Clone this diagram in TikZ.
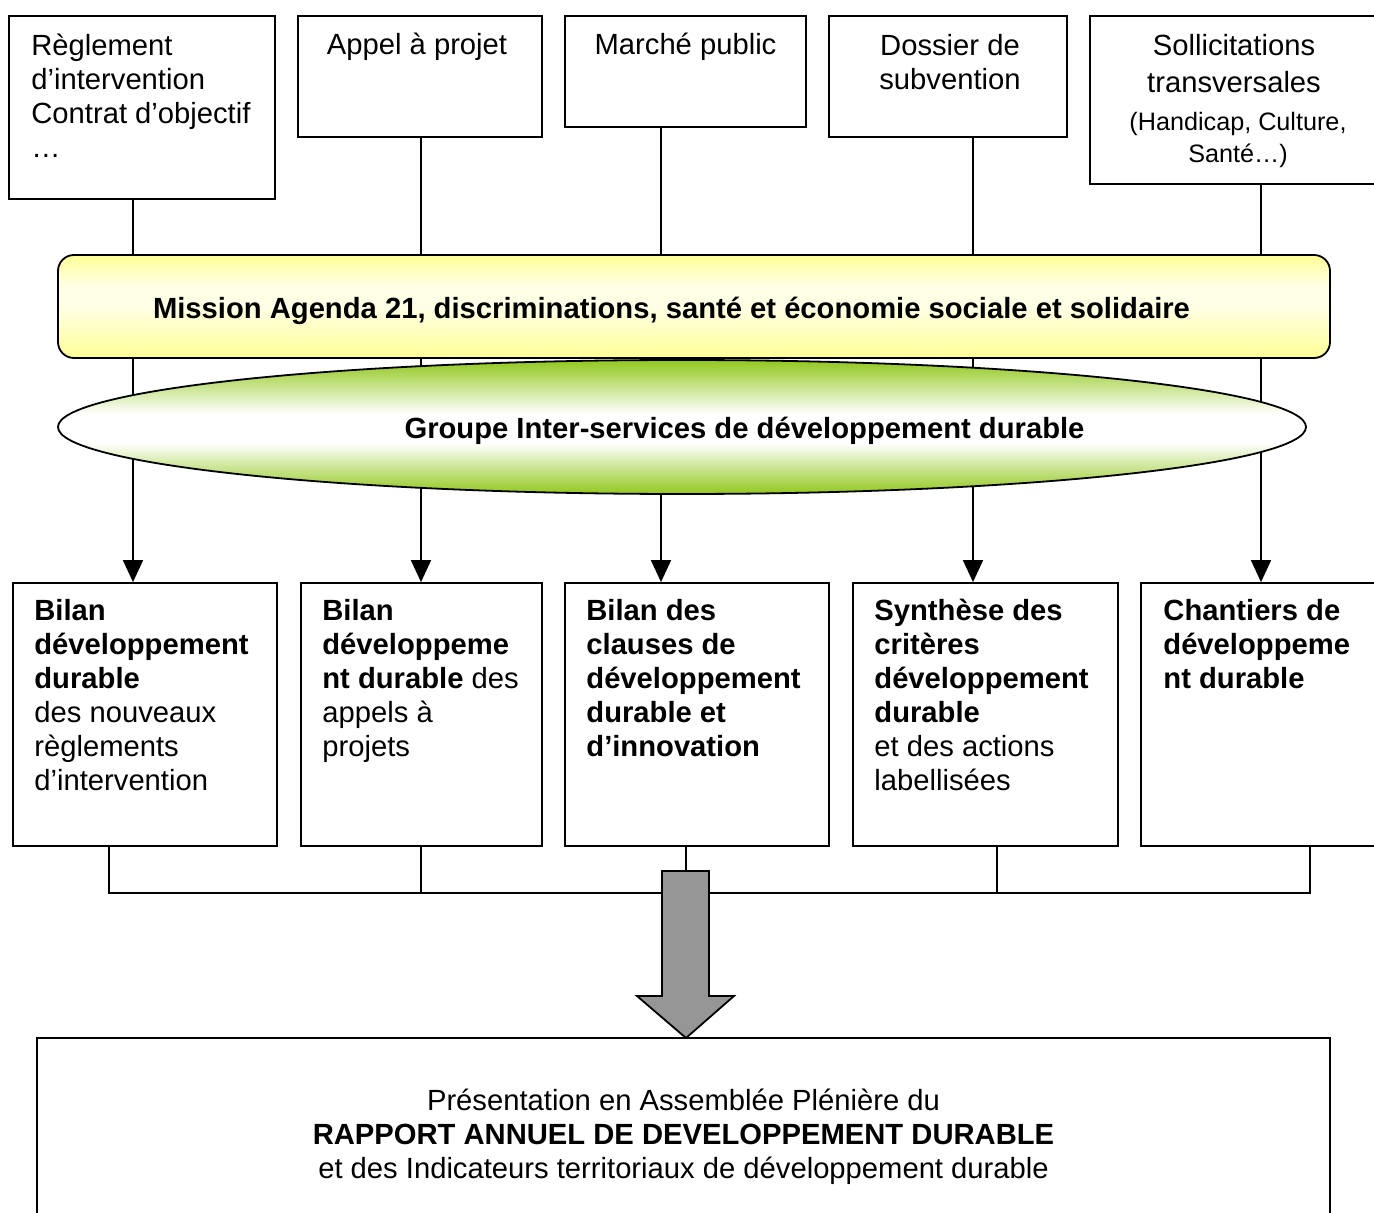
\documentclass[tikz,border=0pt]{standalone}
\usepackage{fontspec}
\setmainfont{Liberation Sans}
\usetikzlibrary{arrows.meta,shapes.geometric}
\definecolor{ylw}{RGB}{255,255,150}
\definecolor{ylwl}{RGB}{255,255,230}
\definecolor{grn}{RGB}{146,200,30}
\definecolor{arrgray}{RGB}{150,150,150}
\pgfdeclareverticalshading{grnshade}{100bp}{color(0bp)=(grn); color(25bp)=(grn); color(44bp)=(white); color(55bp)=(white); color(75bp)=(grn); color(100bp)=(grn)}
\pgfdeclareverticalshading{ylwshade}{100bp}{color(0bp)=(ylw); color(25bp)=(ylw); color(50bp)=(ylwl); color(60bp)=(ylwl); color(75bp)=(ylw); color(100bp)=(ylw)}
\begin{document}
\begin{tikzpicture}[x=0.5pt,y=-0.5pt,
  box/.style={draw, line width=0.9pt, fill=white, inner sep=0pt, rectangle},
  conn/.style={line width=0.8pt},
  arr/.style={-{Triangle[width=10pt,length=11pt]}},
  txt/.style={inner sep=0pt, font=\fontsize{14.6}{17}\selectfont},
  btxt/.style={inner sep=0pt, font=\fontsize{14.6}{17}\selectfont\bfseries},
  stxt/.style={inner sep=0pt, font=\fontsize{12.6}{15}\selectfont}]
\useasboundingbox (0,0) rectangle (1374,1213);

% top boxes
\node[box, minimum width=133pt, minimum height=91.5pt] (t1) at (142,107.5) {};
\node[box, minimum width=122pt, minimum height=60.5pt] (t2) at (420,76.5) {};
\node[box, minimum width=120.5pt, minimum height=55.5pt] (t3) at (685.5,71.5) {};
\node[box, minimum width=119pt, minimum height=60.5pt] (t4) at (948,76.5) {};
\node[box, minimum width=147.5pt, minimum height=84pt] (t5) at (1237.5,100) {};

% bottom boxes
\node[box, minimum width=132pt, minimum height=131.5pt] (b1) at (145,714.5) {};
\node[box, minimum width=120.5pt, minimum height=131.5pt] (b2) at (421.5,714.5) {};
\node[box, minimum width=132pt, minimum height=131.5pt] (b3) at (697,714.5) {};
\node[box, minimum width=132.5pt, minimum height=131.5pt] (b4) at (985.5,714.5) {};
\node[box, minimum width=129.5pt, minimum height=131.5pt] (b5) at (1270.5,714.5) {};

% final box
\node[box, minimum width=646.5pt, minimum height=111pt] (rap) at (683.5,1149) {};

% connector positions
\coordinate (c1) at (133,0);
\coordinate (c2) at (421,0);
\coordinate (c3) at (661,0);
\coordinate (c4) at (973,0);
\coordinate (c5) at (1261,0);
\coordinate (d1) at (109,0);
\coordinate (d2) at (421,0);
\coordinate (d3) at (686,0);
\coordinate (d4) at (997,0);
\coordinate (d5) at (1310,0);
\coordinate (hy) at (0,893);
\coordinate (ga) at (686,871);

% vertical arrows
\draw[conn, arr] (t1.south -| c1) -- (b1.north -| c1);
\draw[conn, arr] (t2.south -| c2) -- (b2.north -| c2);
\draw[conn, arr] (t3.south -| c3) -- (b3.north -| c3);
\draw[conn, arr] (t4.south -| c4) -- (b4.north -| c4);
\draw[conn, arr] (t5.south -| c5) -- (b5.north -| c5);

% mission and groupe
\node[ellipse, draw, line width=0.9pt, inner sep=0pt, minimum width=624pt, minimum height=67pt,
  shading=grnshade] (groupe) at (682,427) {};
\node[draw, line width=0.9pt, rounded corners=8pt, inner sep=0pt, minimum width=636pt, minimum height=51.5pt,
  shading=ylwshade] (mission) at (694,306.5) {};
\node[btxt, anchor=base] (missiontxt) at (671.5,319) {Mission Agenda 21, discriminations, santé et économie sociale et solidaire};
\node[btxt, anchor=base] (groupetxt) at (744.5,438) {Groupe Inter-services de développement durable};

% collecting connectors
\draw[conn] (b1.south -| d1) -- (d1 |- hy) -- (d5 |- hy) -- (b5.south -| d5);
\draw[conn] (b2.south -| d2) -- (d2 |- hy);
\draw[conn] (b4.south -| d4) -- (d4 |- hy);
\draw[conn] (b3.south -| d3) -- (ga);

% gray block arrow
\filldraw[fill=arrgray, draw=black, line width=0.9pt]
  (662,871) -- (709,871) -- (709,996) -- (734,996) -- (686,1038) -- (637,996) -- (662,996) -- cycle;

% top texts
\node[txt, anchor=north west, align=left] (t1txt) at (31,31.2)
  {\strut Règlement\\ d’intervention\\ Contrat d’objectif\\ …};
\node[txt, anchor=base] (t2txt) at (417,55) {Appel à projet};
\node[txt, anchor=base] (t3txt) at (685.5,55) {Marché public};
\node[txt, anchor=north, align=center] (t4txt) at (950,31.2) {\strut Dossier de\\ subvention};
\node[txt, anchor=base] (t5a) at (1234,56) {Sollicitations};
\node[txt, anchor=base] (t5b) at (1234,93) {transversales};
\node[stxt, anchor=base] (t5c) at (1238,131) {(Handicap, Culture,};
\node[stxt, anchor=base] (t5d) at (1238,163) {Santé…)};

% bottom texts
\node[txt, anchor=north west, align=left] (b1txt) at (34,596.2)
  {\strut\textbf{Bilan}\\ \textbf{développement}\\ \textbf{durable}\\ des nouveaux\\ règlements\\ d’intervention};
\node[txt, anchor=north west, align=left] (b2txt) at (322,596.2)
  {\strut\textbf{Bilan}\\ \textbf{développeme}\\ \textbf{nt durable} des\\ appels à\\ projets};
\node[btxt, anchor=north west, align=left] (b3txt) at (586,596.2)
  {\strut Bilan des\\ clauses de\\ développement\\ durable et\\ d’innovation};
\node[txt, anchor=north west, align=left] (b4txt) at (874,596.2)
  {\strut\textbf{Synthèse des}\\ \textbf{critères}\\ \textbf{développement}\\ \textbf{durable}\\ et des actions\\ labellisées};
\node[btxt, anchor=north west, align=left] (b5txt) at (1163,596.2)
  {\strut Chantiers de\\ développeme\\ nt durable};

% final text
\node[txt, anchor=north, align=center] (raptxt) at (683.5,1086.2)
  {\strut Présentation en Assemblée Plénière du\\ \textbf{RAPPORT ANNUEL DE DEVELOPPEMENT DURABLE}\\ et des Indicateurs territoriaux de développement durable};
\end{tikzpicture}
\end{document}
